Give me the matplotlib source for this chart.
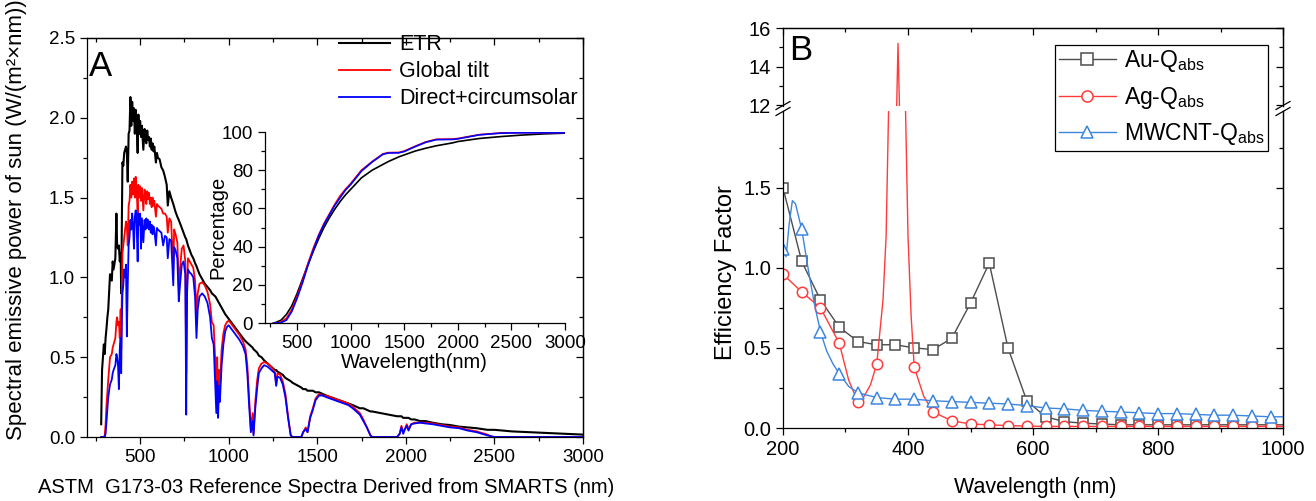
import numpy as np
import matplotlib
matplotlib.use("Agg")
import matplotlib.pyplot as plt
from matplotlib.ticker import MultipleLocator, FixedLocator, FormatStrFormatter
from matplotlib.lines import Line2D

plt.rcParams['font.family'] = ['Liberation Sans', 'DejaVu Sans']
plt.rcParams['mathtext.fontset'] = 'custom'
plt.rcParams['mathtext.rm'] = 'Liberation Sans'
plt.rcParams['mathtext.default'] = 'regular'
plt.rcParams['axes.linewidth'] = 0.9

# ---- panel A: ASTM G173 spectra (W/(m2 nm)) ----
WL = [280, 285, 290, 295, 300, 305, 310, 315, 320, 330, 340, 345, 350, 360, 366, 370,
      375, 380, 385, 390, 393, 397, 400, 405, 410, 415, 420, 425, 430, 435, 440, 445,
      450, 455, 460, 465, 470, 475, 480, 486, 490, 495, 500, 505, 510, 518, 525, 530,
      535, 540, 545, 550, 555, 560, 565, 570, 575, 580, 589, 595, 600, 610, 620, 630,
      640, 650, 656, 665, 675, 687, 692, 700, 710, 718, 725, 735, 745, 755, 760, 765,
      770, 780, 790, 800, 810, 818, 825, 835, 850, 865, 880, 895, 905, 915, 925, 930,
      935, 940, 945, 950, 960, 970, 980, 990, 1000, 1020, 1040, 1060, 1080, 1095, 1105, 1115,
      1125, 1135, 1140, 1150, 1160, 1170, 1185, 1200, 1220, 1240, 1260, 1268, 1275, 1290, 1305, 1320,
      1335, 1350, 1360, 1410, 1420, 1435, 1445, 1460, 1475, 1490, 1510, 1530, 1550, 1575, 1600, 1625,
      1650, 1675, 1700, 1720, 1740, 1760, 1780, 1800, 1810, 1950, 1965, 1975, 1985, 1995, 2005, 2015,
      2030, 2050, 2080, 2110, 2150, 2200, 2250, 2300, 2350, 2400, 2430, 2460, 2480, 2500, 2600, 2700,
      2800, 2900, 3000]
ETR = [0.08, 0.42, 0.50, 0.58, 0.52, 0.62, 0.68, 0.75, 0.80, 1.02, 0.98, 1.10, 1.05, 1.12, 1.40, 1.20,
       1.18, 1.20, 1.10, 1.15, 0.90, 1.35, 1.72, 1.70, 1.78, 1.80, 1.82, 1.78, 1.60, 1.90, 1.92, 2.13,
       1.95, 2.10, 1.98, 2.06, 1.90, 2.05, 1.97, 1.78, 2.02, 1.90, 1.98, 1.88, 1.95, 1.80, 1.93, 1.86,
       1.84, 1.92, 1.86, 1.88, 1.82, 1.87, 1.80, 1.84, 1.79, 1.82, 1.72, 1.78, 1.75, 1.74, 1.69, 1.67,
       1.63, 1.58, 1.45, 1.54, 1.50, 1.46, 1.44, 1.41, 1.38, 1.36, 1.34, 1.31, 1.28, 1.25, 1.24, 1.22,
       1.20, 1.17, 1.14, 1.12, 1.09, 1.07, 1.05, 1.02, 0.99, 0.96, 0.94, 0.92, 0.90, 0.89, 0.88, 0.87,
       0.86, 0.85, 0.84, 0.83, 0.81, 0.79, 0.77, 0.755, 0.74, 0.71, 0.68, 0.65, 0.62, 0.60, 0.59, 0.58,
       0.57, 0.56, 0.55, 0.54, 0.53, 0.51, 0.50, 0.48, 0.46, 0.44, 0.42, 0.42, 0.41, 0.40, 0.39, 0.37,
       0.36, 0.35, 0.34, 0.31, 0.30, 0.30, 0.29, 0.29, 0.29, 0.28, 0.28, 0.27, 0.26, 0.25, 0.24, 0.23,
       0.22, 0.21, 0.20, 0.19, 0.18, 0.18, 0.17, 0.16, 0.16, 0.13, 0.13, 0.13, 0.12, 0.12, 0.12, 0.12,
       0.11, 0.11, 0.10, 0.10, 0.09, 0.08, 0.075, 0.065, 0.06, 0.055, 0.05, 0.045, 0.045, 0.045, 0.035, 0.03,
       0.025, 0.02, 0.015]
GLOBAL = [0.00, 0.00, 0.00, 0.00, 0.01, 0.08, 0.20, 0.28, 0.36, 0.50, 0.52, 0.56, 0.58, 0.62, 0.72, 0.75,
          0.70, 0.72, 0.62, 0.80, 0.55, 0.95, 1.15, 1.20, 1.25, 1.30, 1.35, 1.32, 1.20, 1.45, 1.48, 1.58,
          1.50, 1.60, 1.52, 1.62, 1.50, 1.63, 1.55, 1.40, 1.58, 1.50, 1.57, 1.48, 1.56, 1.42, 1.55, 1.50,
          1.46, 1.54, 1.49, 1.53, 1.46, 1.50, 1.44, 1.50, 1.45, 1.48, 1.38, 1.46, 1.45, 1.44, 1.43, 1.40,
          1.40, 1.38, 1.28, 1.37, 1.35, 1.05, 1.30, 1.27, 1.22, 0.95, 1.05, 1.18, 1.20, 1.10, 0.40, 0.95,
          1.12, 1.10, 1.08, 1.06, 0.98, 0.78, 0.90, 0.96, 0.97, 0.95, 0.91, 0.83, 0.72, 0.70, 0.45, 0.22,
          0.50, 0.18, 0.42, 0.30, 0.55, 0.65, 0.70, 0.72, 0.73, 0.70, 0.67, 0.64, 0.60, 0.55, 0.45, 0.25,
          0.05, 0.15, 0.02, 0.22, 0.35, 0.43, 0.46, 0.47, 0.46, 0.44, 0.41, 0.33, 0.40, 0.39, 0.35, 0.27,
          0.13, 0.01, 0.00, 0.00, 0.03, 0.06, 0.03, 0.13, 0.18, 0.24, 0.27, 0.26, 0.26, 0.25, 0.24, 0.23,
          0.22, 0.21, 0.19, 0.17, 0.15, 0.11, 0.06, 0.01, 0.00, 0.00, 0.02, 0.07, 0.03, 0.05, 0.08, 0.05,
          0.08, 0.09, 0.09, 0.09, 0.085, 0.075, 0.065, 0.06, 0.045, 0.035, 0.025, 0.015, 0.005, 0.00, 0.00, 0.00,
          0.00, 0.00, 0.00]
DIRECT = [0.00, 0.00, 0.00, 0.00, 0.00, 0.02, 0.10, 0.18, 0.25, 0.33, 0.36, 0.40, 0.42, 0.45, 0.52, 0.50,
          0.45, 0.30, 0.55, 0.62, 0.40, 0.75, 0.90, 0.95, 1.05, 1.00, 1.08, 0.63, 0.95, 1.20, 1.25, 1.36,
          1.30, 1.40, 1.32, 1.18, 1.38, 1.42, 1.34, 1.10, 1.40, 1.33, 1.40, 1.18, 1.37, 1.22, 1.36, 1.30,
          1.37, 1.31, 1.36, 1.30, 1.35, 1.28, 1.33, 1.27, 1.32, 1.30, 1.20, 1.31, 1.30, 1.29, 1.28, 1.20,
          1.26, 1.25, 1.12, 1.24, 1.23, 0.95, 1.19, 1.17, 1.12, 0.85, 0.95, 1.08, 1.10, 1.02, 0.14, 0.90,
          1.05, 1.03, 1.02, 1.00, 0.88, 0.62, 0.80, 0.88, 0.90, 0.88, 0.84, 0.75, 0.62, 0.58, 0.30, 0.15,
          0.35, 0.12, 0.32, 0.22, 0.45, 0.58, 0.66, 0.69, 0.70, 0.67, 0.64, 0.61, 0.57, 0.52, 0.40, 0.20,
          0.03, 0.10, 0.01, 0.18, 0.30, 0.40, 0.43, 0.45, 0.44, 0.42, 0.40, 0.32, 0.38, 0.37, 0.33, 0.25,
          0.12, 0.01, 0.00, 0.00, 0.03, 0.05, 0.03, 0.12, 0.17, 0.23, 0.26, 0.26, 0.25, 0.24, 0.23, 0.22,
          0.21, 0.20, 0.18, 0.16, 0.14, 0.10, 0.06, 0.01, 0.00, 0.00, 0.02, 0.06, 0.02, 0.05, 0.07, 0.04,
          0.08, 0.085, 0.09, 0.085, 0.08, 0.07, 0.06, 0.055, 0.04, 0.03, 0.02, 0.01, 0.005, 0.00, 0.00, 0.00,
          0.00, 0.00, 0.00]

# inset: cumulative percentage
PCT_WL = [280, 300, 350, 400, 450, 500, 550, 600, 650, 700, 750, 800, 850, 900, 950, 1000,
          1100, 1200, 1300, 1350, 1450, 1500, 1600, 1700, 1800, 1950, 2000, 2200, 2400, 2600,
          2800, 3000]
ETR_PCT = [0, 0.3, 1.5, 4.5, 9, 15.5, 23, 30.5, 37.5, 44, 50, 55, 59.5, 63.5, 67, 70,
           76, 80, 83, 84.5, 87, 88, 90, 91.5, 92.8, 94.3, 95, 96.6, 97.6, 98.4,
           99, 99.4]
GLOBAL_PCT = [0, 0, 0.5, 2.5, 7, 14, 22, 31, 39, 46, 52, 57, 62, 66.5, 70, 73,
              80, 84.5, 88.5, 89.2, 89.3, 90, 92.5, 94.8, 96.2, 96.3, 96.6, 98.6, 99.5, 99.7,
              99.7, 99.7]
DIRECT_PCT = [0, 0, 0.2, 1.5, 6, 13, 21, 30, 38, 45.5, 51.5, 56.5, 61.5, 65.5, 69.5, 72.5,
              79.5, 84.3, 88.3, 89.0, 89.1, 89.8, 92.3, 94.6, 96.0, 96.1, 96.4, 98.5, 99.4, 99.6,
              99.6, 99.6]

# ---- panel B: absorption efficiency ----
AU_WL = [200, 230, 260, 290, 320, 350, 380, 410, 440, 470, 500, 530, 560, 590, 620, 650,
         680, 710, 740, 770, 800, 830, 860, 890, 920, 950, 980, 1000]
AU_Q = [1.50, 1.04, 0.80, 0.63, 0.54, 0.52, 0.52, 0.50, 0.49, 0.56, 0.78, 1.03, 0.50, 0.17, 0.07, 0.04,
        0.03, 0.025, 0.02, 0.02, 0.02, 0.02, 0.02, 0.02, 0.02, 0.02, 0.02, 0.02]
AG_WL = [200, 230, 260, 290, 305, 320, 330, 340, 350, 360, 365, 370, 375, 380, 384, 387,
         390, 395, 400, 405, 410, 425, 440, 470, 500, 530, 560, 590, 620, 650, 680, 710,
         740, 770, 800, 830, 860, 890, 920, 950, 980, 1000]
AG_Q = [0.96, 0.85, 0.75, 0.53, 0.30, 0.16, 0.20, 0.27, 0.40, 0.80, 1.20, 2.2, 5.0, 9.0, 15.2, 11.0,
        6.0, 2.2, 1.2, 0.70, 0.38, 0.20, 0.10, 0.045, 0.025, 0.02, 0.015, 0.012, 0.01, 0.01, 0.01, 0.01,
        0.01, 0.01, 0.01, 0.01, 0.01, 0.01, 0.01, 0.01, 0.01, 0.01]
CNT_WL = [200, 205, 210, 215, 220, 230, 240, 250, 260, 270, 280, 290, 305, 320, 350, 380,
          410, 440, 470, 500, 530, 560, 590, 620, 650, 680, 710, 740, 770, 800, 830, 860,
          890, 920, 950, 980, 1000]
CNT_Q = [1.12, 1.07, 1.28, 1.42, 1.40, 1.24, 1.00, 0.78, 0.60, 0.48, 0.40, 0.34, 0.26, 0.22, 0.19, 0.18,
         0.18, 0.17, 0.165, 0.16, 0.155, 0.15, 0.14, 0.125, 0.12, 0.11, 0.105, 0.10, 0.095, 0.09, 0.09, 0.085,
         0.08, 0.08, 0.075, 0.07, 0.07]

W, H = 1316, 501
fig = plt.figure(figsize=(W / 100, H / 100), dpi=100)


def box(l, t, r, b):
    return [l / W, 1 - b / H, (r - l) / W, (b - t) / H]


def mirror(ax, top=True, right=True, xmaj=None, xmin=None, ymaj=None, ymin=None):
    # origin style: inward ticks on top/right, no labels
    if top:
        s = ax.secondary_xaxis('top')
        s.xaxis.set_major_locator(xmaj)
        s.xaxis.set_minor_locator(xmin)
        s.tick_params(which='both', direction='in', labeltop=False, width=0.9)
        s.tick_params(which='major', length=5)
        s.tick_params(which='minor', length=3)
    if right:
        s = ax.secondary_yaxis('right')
        s.yaxis.set_major_locator(ymaj)
        s.yaxis.set_minor_locator(ymin)
        s.tick_params(which='both', direction='in', labelright=False, width=0.9)
        s.tick_params(which='major', length=5)
        s.tick_params(which='minor', length=3)


# ================= panel A =================
axA = fig.add_axes(box(87, 38, 583, 437))
axA.plot(WL, ETR, color='black', lw=1.5, label='ETR')
axA.plot(WL, GLOBAL, color='#ff0000', lw=1.3, label='Global tilt')
axA.plot(WL, DIRECT, color='#0000ff', lw=1.3, label='Direct+circumsolar')
axA.set_xlim(200, 3000)
axA.set_ylim(0, 2.5)
axA.xaxis.set_major_locator(MultipleLocator(500))
axA.xaxis.set_minor_locator(MultipleLocator(250))
axA.yaxis.set_major_locator(MultipleLocator(0.5))
axA.yaxis.set_minor_locator(MultipleLocator(0.25))
axA.yaxis.set_major_formatter(FormatStrFormatter('%.1f'))
axA.tick_params(which='both', direction='out', top=False, right=False, labelsize=13.5, width=0.9)
axA.tick_params(which='major', length=5)
axA.tick_params(which='minor', length=3)
mirror(axA, xmaj=MultipleLocator(500), xmin=MultipleLocator(250),
       ymaj=MultipleLocator(0.5), ymin=MultipleLocator(0.25))
axA.set_xlabel('ASTM  G173-03 Reference Spectra Derived from SMARTS (nm)', fontsize=14.5)
axA.xaxis.set_label_coords(0.482, -0.103)
axA.set_ylabel('Spectral emissive power of sun (W/(m²×nm))', fontsize=16)
axA.yaxis.set_label_coords(-0.12, 0.545)
axA.legend(loc='upper right', frameon=False, fontsize=15.5, handlelength=2.4,
           bbox_to_anchor=(0.998, 1.02), borderaxespad=0, borderpad=0.2,
           labelspacing=0.28, handletextpad=0.4)
fig.text(89 / W, 1 - 50 / H, 'A', fontsize=25, va='top', ha='left')

# inset
axI = fig.add_axes(box(265, 132, 565, 323))
axI.set_facecolor('none')
axI.plot(PCT_WL, ETR_PCT, color='black', lw=1.2)
axI.plot(PCT_WL, GLOBAL_PCT, color='#ff0000', lw=1.2)
axI.plot(PCT_WL, DIRECT_PCT, color='#0000ff', lw=1.2)
axI.set_xlim(200, 3000)
axI.set_ylim(0, 100)
axI.spines['top'].set_visible(False)
axI.spines['right'].set_visible(False)
axI.xaxis.set_major_locator(MultipleLocator(500))
axI.xaxis.set_minor_locator(MultipleLocator(250))
axI.yaxis.set_major_locator(MultipleLocator(20))
axI.yaxis.set_minor_locator(MultipleLocator(10))
axI.tick_params(which='both', direction='out', labelsize=13.5, width=0.9)
axI.tick_params(which='major', length=5)
axI.tick_params(which='minor', length=3)
axI.set_xlabel('Wavelength(nm)', fontsize=14.5)
axI.xaxis.set_label_coords(0.497, -0.155)
axI.set_ylabel('Percentage', fontsize=14.5)
axI.yaxis.set_label_coords(-0.125, 0.5)

# ================= panel B (broken y axis) =================
axU = fig.add_axes(box(783, 28, 1283, 106))
axL = fig.add_axes(box(783, 111, 1283, 428))
series = [(AU_WL, AU_Q, '#4d4d4d', 's', 7.5, 'Au-Q$_{abs}$'),
          (AG_WL, AG_Q, '#ff3b3b', 'o', 7.5, 'Ag-Q$_{abs}$'),
          (CNT_WL, CNT_Q, '#3d85e0', '^', 8.5, 'MWCNT-Q$_{abs}$')]
handles = []
for wl, q, c, m, ms, lab in series:
    every = [i for i, w in enumerate(wl) if (w - 200) % 30 == 0]
    for ax in (axU, axL):
        ax.plot(wl, q, color=c, lw=1.0, marker=m, ms=ms, mfc='white', mec=c, mew=1.1,
                markevery=every)
    handles.append(Line2D([], [], color=c, lw=1.0, marker=m, ms=ms + 0.5, mfc='white', mec=c,
                          mew=1.1, label=lab))

for ax in (axU, axL):
    ax.set_xlim(200, 1000)
    ax.xaxis.set_major_locator(MultipleLocator(200))
    ax.xaxis.set_minor_locator(MultipleLocator(100))
    ax.tick_params(which='both', direction='out', top=False, right=False, labelsize=14.5, width=0.9)
    ax.tick_params(which='major', length=5)
    ax.tick_params(which='minor', length=3)

axU.set_ylim(11.95, 16)
axU.yaxis.set_major_locator(MultipleLocator(2))
axU.yaxis.set_minor_locator(MultipleLocator(1))
axU.spines['bottom'].set_visible(False)
axU.tick_params(axis='x', which='both', bottom=False, labelbottom=False)
mirror(axU, xmaj=MultipleLocator(200), xmin=MultipleLocator(100),
       ymaj=MultipleLocator(2), ymin=MultipleLocator(1))

axL.set_ylim(0, 1.98)
axL.yaxis.set_major_locator(FixedLocator([0, 0.5, 1.0, 1.5]))
axL.yaxis.set_minor_locator(FixedLocator([0.25, 0.75, 1.25, 1.75]))
axL.yaxis.set_major_formatter(FormatStrFormatter('%.1f'))
axL.spines['top'].set_visible(False)
mirror(axL, top=False, ymaj=FixedLocator([0, 0.5, 1.0, 1.5]),
       ymin=FixedLocator([0.25, 0.75, 1.25, 1.75]))
axL.set_xlabel('Wavelength (nm)', fontsize=15.5)
axL.xaxis.set_label_coords(0.504, -0.155)
axL.set_ylabel('Efficiency Factor', fontsize=17)
axL.yaxis.set_label_coords(-0.092, 0.49)

# break marks on both spines
for xp in (783, 1283):
    for yc in (105.5, 111.5):
        fig.add_artist(Line2D([(xp - 7) / W, (xp + 7) / W],
                              [1 - (yc + 4) / H, 1 - (yc - 4) / H],
                              color='black', lw=0.9))

leg = axL.legend(handles=handles, loc='upper right', bbox_to_anchor=(1268 / W, 1 - 45 / H),
                 bbox_transform=fig.transFigure, borderaxespad=0, fontsize=16.5,
                 handlelength=2.5, numpoints=1, fancybox=False, framealpha=1,
                 edgecolor='black', labelspacing=0.45, handletextpad=0.35, borderpad=0.15)
leg.get_frame().set_linewidth(0.9)
fig.text(789 / W, 1 - 34 / H, 'B', fontsize=25, va='top', ha='left')

fig.savefig('out.png', dpi=100)
